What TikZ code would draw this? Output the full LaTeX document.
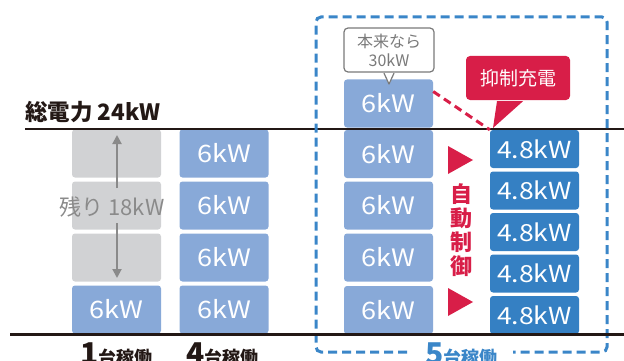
\documentclass[tikz,border=0pt]{standalone}
\usepackage{fontspec}
\setmainfont{Noto Sans CJK JP}
\newfontfamily\boxfont[FakeStretch=1.13]{Noto Sans CJK JP}
\usetikzlibrary{arrows.meta,calc}
\definecolor{grayblk}{HTML}{D1D2D4}
\definecolor{lblue}{HTML}{88A9D8}
\definecolor{dblue}{HTML}{3580C3}
\definecolor{framec}{HTML}{3A86C8}
\definecolor{cred}{HTML}{D81E48}
\definecolor{ink}{HTML}{231815}
\definecolor{txtgray}{HTML}{8A8A8A}
\definecolor{calloutgray}{HTML}{7A7A7A}
\begin{document}
\begin{tikzpicture}[x=1pt,y=-1pt,
  blk/.style={rectangle,rounded corners=3pt,minimum width=89pt,minimum height=48pt,inner sep=0pt,text=white,font=\boxfont\fontsize{24}{24}\selectfont},
  gblk/.style={blk,fill=grayblk},
  lblk/.style={blk,fill=lblue},
  dblk/.style={blk,fill=dblue,minimum height=38pt,font=\boxfont\fontsize{23.5}{23.5}\selectfont},
  garrow/.style={draw=txtgray,line width=2pt,-{Triangle[length=9pt,width=9pt]}},
  framedash/.style={draw=framec,line width=3pt,dash pattern=on 9pt off 5pt,rounded corners=5pt},
  reddash/.style={draw=cred,line width=3pt,dash pattern=on 8pt off 5pt},
  redtri/.style={fill=cred},
  cntlabel/.style={anchor=base west,inner sep=0pt,font=\bfseries},
]
\useasboundingbox (0,0) rectangle (624,361);

% column 1 (1 unit running)
\node[gblk] (a1) at (116.5,153.5) {};
\node[gblk] (a2) at (116.5,205.5) {};
\node[gblk] (a3) at (116.5,257.5) {};
\node[lblk] (a4) at (116.5,309.5) {6kW};

% column 2 (4 units)
\node[lblk] (b1) at (224,153.5) {6kW};
\node[lblk] (b2) at (224,205.5) {6kW};
\node[lblk] (b3) at (224,257.5) {6kW};
\node[lblk] (b4) at (224,309.5) {6kW};

% column 3 (5 units, uncontrolled)
\node[lblk] (c1) at (388.5,103.5) {6kW};
\node[lblk] (c2) at (388.5,154) {6kW};
\node[lblk] (c3) at (388.5,205.5) {6kW};
\node[lblk] (c4) at (388.5,257.5) {6kW};
\node[lblk] (c5) at (388.5,310) {6kW};

% column 4 (5 units, controlled)
\node[dblk] (d1) at (534.5,149) {4.8kW};
\node[dblk] (d2) at (534.5,190.5) {4.8kW};
\node[dblk] (d3) at (534.5,232) {4.8kW};
\node[dblk] (d4) at (534.5,273.5) {4.8kW};
\node[dblk] (d5) at (534.5,315) {4.8kW};

% remaining arrow
\coordinate (arTopS) at (117,188);
\coordinate (arTopE) at (117,135);
\coordinate (arBotS) at (117,223);
\coordinate (arBotE) at (117,278);
\draw[garrow] (arTopS) -- (arTopE);
\draw[garrow] (arBotS) -- (arBotE);
\node[text=txtgray,font=\fontsize{22}{22}\selectfont,inner sep=0pt] (rest) at (112,207) {残り 18kW};

% total power line
\node[anchor=west,inner sep=0pt,font=\fontsize{22.5}{22.5}\selectfont\bfseries,text=ink] (total) at (25,112) {総電力 24kW};
\coordinate (topL) at (25,128.5);
\coordinate (topR) at (624,128.5);
\draw[draw=ink,line width=2pt] (topL) -- (topR);

% dashed frame
\draw[framedash] (407,352) -- (316,352) -- (316,17) -- (607,17) -- (607,352) -- (513,352);

% bottom line
\coordinate (botL) at (10,334);
\coordinate (botR) at (624,334);
\draw[draw=ink,line width=3pt] (botL) -- (botR);

% callout: originally 30kW
\node[draw=calloutgray,fill=white,line width=1.2pt,rounded corners=4pt,minimum width=90pt,minimum height=44pt,inner sep=0pt,align=center,text=calloutgray,font=\fontsize{16}{19}\selectfont] (orig) at (389,50) {本来なら\\30kW};
\coordinate (origtip) at (389,84);
\fill[white] ($(orig.south)+(-5.5,1)$) -- (origtip) -- ($(orig.south)+(5.5,1)$) -- cycle;
\draw[draw=calloutgray,line width=1.2pt,line join=round] ($(orig.south)+(-5,0.6)$) -- (origtip) -- ($(orig.south)+(5,0.6)$);

% red dashed link and callout
\draw[reddash] ([yshift=12pt]c1.east) -- (d1.north west);
\node[fill=cred,rounded corners=4pt,minimum width=104pt,minimum height=44pt,inner sep=0pt,text=white,font=\fontsize{19}{19}\selectfont] (supp) at (518,78) {抑制充電};
\coordinate (supptip) at (493,128);
\fill[cred] ($(supp.south)+(-21,1)$) -- (supptip) -- ($(supp.south)+(5,1)$) -- cycle;

% red triangles
\fill[redtri] (448,146) -- (473,160) -- (448,174) -- cycle;
\fill[redtri] (448,288) -- (473,302) -- (448,316) -- cycle;
\node[text=cred,align=center,inner sep=0pt,font=\fontsize{22}{24}\selectfont\bfseries] (auto) at (461,230) {自\\動\\制\\御};

% counts
\node[cntlabel,text=ink] (n1) at (80,364) {{\fontsize{30}{30}\selectfont 1}{\fontsize{18}{18}\selectfont 台稼働}};
\node[cntlabel,text=ink] (n4) at (186,364) {{\fontsize{30}{30}\selectfont 4}{\fontsize{18}{18}\selectfont 台稼働}};
\node[cntlabel,text=framec] (n5) at (425,364) {{\fontsize{30}{30}\selectfont 5}{\fontsize{18}{18}\selectfont 台稼働}};
\end{tikzpicture}
\end{document}
